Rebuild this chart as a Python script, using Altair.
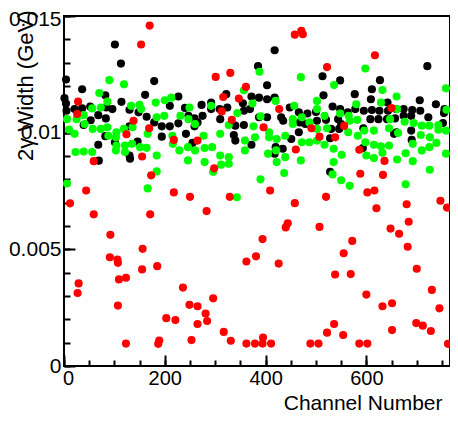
import altair as alt
import pandas as pd

# (channel, 2-gamma width in GeV)
black_points = [
    (101, 0.01378), (113, 0.01296), (4, 0.01228), (179, 0.01221), (36, 0.01186), (161, 0.01162),
    (82, 0.01160), (1, 0.01148), (4, 0.01125), (114, 0.01132), (227, 0.01155), (210, 0.01115),
    (84, 0.01108), (96, 0.01101), (21, 0.01101), (5, 0.01094), (36, 0.01104), (130, 0.01098),
    (148, 0.01087), (240, 0.01106), (68, 0.01075), (53, 0.01053), (83, 0.01061), (164, 0.01068),
    (259, 0.01061), (194, 0.01027), (210, 0.01027), (227, 0.01040), (39, 0.01033), (130, 0.01027),
    (179, 0.01044), (242, 0.00995), (82, 0.00985), (194, 0.00983), (101, 0.00959), (146, 0.00962),
    (68, 0.00948), (255, 0.00956), (130, 0.00902), (131, 0.00888), (69, 0.00880), (52, 0.01112),
    (418, 0.01353), (385, 0.01285), (403, 0.01203), (322, 0.01165), (273, 0.01119), (292, 0.01129),
    (247, 0.01072), (275, 0.01072), (292, 0.01101), (309, 0.01101), (324, 0.01108), (355, 0.01126),
    (372, 0.01155), (387, 0.01150), (403, 0.01143), (418, 0.01150), (357, 0.01094), (369, 0.01101),
    (387, 0.01066), (431, 0.01066), (435, 0.01051), (448, 0.01108), (466, 0.01087), (466, 0.01002),
    (479, 0.01037), (513, 0.01242), (265, 0.01044), (259, 0.01027), (310, 0.01058), (340, 0.01030),
    (357, 0.01033), (337, 0.00990), (340, 0.00966), (372, 0.00948), (420, 0.00938), (418, 0.00910),
    (434, 0.00931), (500, 0.01089), (403, 0.01066), (468, 0.01044), (520, 0.01055), (451, 0.00973),
    (483, 0.01082),
    (721, 0.01285), (548, 0.01224), (627, 0.01225), (611, 0.01186), (577, 0.01165), (515, 0.01160),
    (609, 0.01143), (642, 0.01129), (706, 0.01139), (738, 0.01122), (533, 0.01112), (548, 0.01101),
    (563, 0.01087), (578, 0.01101), (595, 0.01094), (611, 0.01097), (626, 0.01094), (643, 0.01094),
    (659, 0.01101), (674, 0.01101), (691, 0.01097), (707, 0.01094), (755, 0.01101), (754, 0.01084),
    (502, 0.01051), (544, 0.01058), (608, 0.01058), (624, 0.01058), (641, 0.01058), (657, 0.01061),
    (674, 0.01072), (689, 0.01072), (723, 0.01066), (752, 0.01041), (530, 0.01016), (546, 0.01016),
    (594, 0.01019), (660, 0.01002), (689, 0.01009), (690, 0.00969), (528, 0.00976), (593, 0.00934),
    (655, 0.00995), (528, 0.00832), (550, 0.01037),
]

green_points = [
    (90, 0.01225), (119, 0.01207), (70, 0.01170), (86, 0.01133), (182, 0.01129), (200, 0.01139),
    (213, 0.01150), (133, 0.01115), (150, 0.01119), (153, 0.01101), (56, 0.01104), (73, 0.01108),
    (6, 0.01058), (25, 0.01058), (39, 0.01075), (57, 0.01016), (41, 0.01037), (73, 0.01016),
    (86, 0.01023), (10, 0.01013), (21, 0.00995), (104, 0.01002), (119, 0.01016), (136, 0.01023),
    (166, 0.00995), (199, 0.01072), (184, 0.01066), (231, 0.01072), (247, 0.01058), (260, 0.01037),
    (103, 0.00980), (88, 0.00987), (104, 0.00945), (121, 0.00945), (103, 0.00924), (121, 0.00917),
    (135, 0.00952), (151, 0.00938), (164, 0.00935), (23, 0.00917), (39, 0.00919), (56, 0.00917),
    (184, 0.00902), (215, 0.00987), (216, 0.00952), (229, 0.00924), (246, 0.00881), (260, 0.00924),
    (184, 0.00834), (6, 0.00782), (166, 0.00761),
    (388, 0.01261), (470, 0.01238), (357, 0.01182), (249, 0.01108), (292, 0.01115), (277, 0.00987),
    (279, 0.00934), (294, 0.00938), (279, 0.00874), (296, 0.00832), (310, 0.00995), (310, 0.00902),
    (312, 0.00863), (327, 0.00895), (327, 0.00867), (327, 0.01033), (344, 0.01084), (359, 0.00966),
    (359, 0.00924), (374, 0.01125), (376, 0.01027), (379, 0.00980), (390, 0.01070), (390, 0.00800),
    (407, 0.01002), (407, 0.00980), (405, 0.00910), (420, 0.01136), (422, 0.00973), (421, 0.00924),
    (422, 0.00874), (439, 0.00987), (439, 0.00895), (437, 0.00827), (454, 0.01058), (454, 0.01037),
    (457, 0.01115), (472, 0.01066), (472, 0.00959), (470, 0.00881), (487, 0.01044), (487, 0.00959),
    (502, 0.01136), (502, 0.01101), (502, 0.00966), (517, 0.01072), (517, 0.00948), (246, 0.00938),
    (343, 0.00723),
    (598, 0.01275), (536, 0.01204), (632, 0.01183), (660, 0.01155), (629, 0.01129), (580, 0.01122),
    (758, 0.01190), (759, 0.01098), (548, 0.01082), (565, 0.01072), (567, 0.01051), (582, 0.01055),
    (661, 0.01101), (647, 0.01058), (676, 0.01047), (694, 0.01041), (710, 0.01030), (725, 0.01030),
    (743, 0.01033), (743, 0.01013), (758, 0.01009), (502, 0.01016), (522, 0.01019), (564, 0.01002),
    (596, 0.01009), (615, 0.01009), (645, 0.01019), (663, 0.00999), (708, 0.00990), (726, 0.00980),
    (739, 0.00956), (583, 0.00987), (598, 0.00959), (615, 0.00948), (629, 0.00942), (645, 0.00945),
    (692, 0.00952), (710, 0.00924), (725, 0.00938), (758, 0.00910), (535, 0.00931), (551, 0.00905),
    (600, 0.00902), (615, 0.00891), (632, 0.00914), (678, 0.00912), (692, 0.00878), (661, 0.00885),
    (535, 0.00874), (726, 0.00841), (533, 0.00821), (550, 0.00796), (567, 0.00772), (678, 0.00779),
]

red_channel = [
    170, 153, 28, 26, 138, 124, 169, 59, 155, 173,
    218, 44, 265, 12, 59, 218, 250, 171, 92, 156,
    91, 106, 107, 155, 185, 29, 27, 109, 123, 236,
    107, 249, 265, 203, 221, 265, 123, 189, 187, 253,
    329, 283, 409, 458, 520, 444, 440, 507, 394, 381,
    362, 426, 296, 281, 284, 317, 331, 362, 379, 395,
    394, 411, 489, 505, 522, 602, 616, 620, 680, 684,
    648, 665, 682, 747, 760, 572, 555, 538, 569, 700,
    600, 730, 632, 651, 745, 536, 554, 699, 712, 728,
    651, 586, 602, 762, 458, 471, 474, 301, 330, 361,
    316, 347, 427, 313, 333, 396, 491, 507, 460, 298,
    617, 522, 650, 556, 538, 586, 636, 588, 633,
]
red_width = [
    0.01459, 0.01378, 0.01133, 0.01080, 0.01051, 0.00993, 0.01019, 0.00878, 0.00898, 0.00817,
    0.00969, 0.00752, 0.00966, 0.00697, 0.00650, 0.00744, 0.00725, 0.00650, 0.00562, 0.00502,
    0.00466, 0.00456, 0.00442, 0.00414, 0.00428, 0.00354, 0.00313, 0.00371, 0.00378, 0.00336,
    0.00259, 0.00262, 0.00256, 0.00205, 0.00197, 0.00180, 0.00096, 0.00109, 0.00095, 0.00111,
    0.00725, 0.00664, 0.00752, 0.00698, 0.00725, 0.00612, 0.00594, 0.00596, 0.00544, 0.00470,
    0.00448, 0.00439, 0.00290, 0.00225, 0.00193, 0.00146, 0.00108, 0.00096, 0.00096, 0.00122,
    0.00096, 0.00096, 0.00096, 0.00096, 0.00143, 0.00744, 0.00752, 0.00676, 0.00693, 0.00618,
    0.00589, 0.00567, 0.00511, 0.00708, 0.00679, 0.00536, 0.00483, 0.00392, 0.00394, 0.00417,
    0.00306, 0.00326, 0.00256, 0.00269, 0.00247, 0.00180, 0.00133, 0.00184, 0.00173, 0.00150,
    0.00154, 0.00096, 0.00096, 0.00095, 0.01420, 0.01437, 0.01422, 0.01239, 0.01256, 0.01196,
    0.01153, 0.01146, 0.01101, 0.01091, 0.01055, 0.01023, 0.01019, 0.00983, 0.00928, 0.00847,
    0.01332, 0.01281, 0.01105, 0.01029, 0.00980, 0.00927, 0.00879, 0.00824, 0.00819,
]

x_major_ticks = [0, 200, 400, 600]
x_minor_ticks = [0, 50, 100, 150, 200, 250, 300, 350, 400, 450, 500, 550, 600, 650, 700, 750]
y_major_ticks = [0, 0.005, 0.01, 0.015]
y_minor_ticks = [0.000, 0.001, 0.002, 0.003, 0.004, 0.005, 0.006, 0.007, 0.008,
                 0.009, 0.010, 0.011, 0.012, 0.013, 0.014, 0.015]

FONT = "Liberation Sans"

black_df = pd.DataFrame(black_points, columns=["channel", "width"])
green_df = pd.DataFrame(green_points, columns=["channel", "width"])
red_df = pd.DataFrame({"channel": red_channel, "width": red_width})

xs = alt.Scale(domain=[0, 766], nice=False, zero=False)
ys = alt.Scale(domain=[0, 0.015], nice=False, zero=False)

x_main = alt.Axis(
    orient="bottom", values=x_major_ticks, labelFont=FONT, labelFontSize=20,
    labelColor="black", labelPadding=2, labelFlush=False, labelOverlap=False,
    labelOffset={"condition": {"test": "datum.value === 0", "value": 4}, "value": 0},
    ticks=False, tickSize=0, domain=False, grid=False,
    title="Channel Number", titleFont=FONT, titleFontSize=21, titleFontWeight="normal",
    titleColor="black", titleAlign="right", titleBaseline="alphabetic", titleX=378, titleY=43,
)
y_main = alt.Axis(
    orient="left", values=y_major_ticks, labelExpr="format(datum.value, '.3~f')",
    labelFont=FONT, labelFontSize=21,
    labelColor="black", labelPadding=3, labelFlush=False, labelOverlap=False,
    labelOffset={"condition": {"test": "datum.value > 0.0149", "value": 3}, "value": 0},
    ticks=False, tickSize=0, domain=False, grid=False,
    title="2γ Width (GeV)", titleFont=FONT, titleFontSize=22, titleFontWeight="normal",
    titleColor="black", titleAngle=270, titleAlign="right", titleBaseline="middle",
    titleX=-39, titleY=-6,
)
x_major = alt.Axis(orient="bottom", values=x_major_ticks, labels=False, ticks=True, tickSize=11,
                   tickWidth=2, tickColor="black", domain=False, grid=False, title=None, offset=-11)
y_major = alt.Axis(orient="left", values=y_major_ticks, labels=False, ticks=True, tickSize=11,
                   tickWidth=2, tickColor="black", domain=False, grid=False, title=None, offset=-11)
x_minor = alt.Axis(orient="bottom", values=x_minor_ticks, labels=False, ticks=True, tickSize=6,
                   tickWidth=2, tickColor="black", domain=False, grid=False, title=None, offset=-6)
y_minor = alt.Axis(orient="left", values=y_minor_ticks, labels=False, ticks=True, tickSize=6,
                   tickWidth=2, tickColor="black", domain=False, grid=False, title=None, offset=-6)


def layer(df, color, xa, ya):
    return alt.Chart(df).mark_circle(size=66, opacity=1, color=color).encode(
        x=alt.X("channel:Q", scale=xs, axis=xa),
        y=alt.Y("width:Q", scale=ys, axis=ya),
    )


chart = alt.layer(
    layer(black_df, "#000000", x_main, y_main),
    layer(green_df, "#00ff00", x_major, y_major),
    layer(red_df, "#ff0000", x_minor, y_minor),
).resolve_axis(x="independent", y="independent").properties(
    width=386, height=350,
    autosize=alt.AutoSizeParams(type="none"),
    padding={"left": 56, "top": 8, "right": 0, "bottom": 47},
    background="white",
).configure_view(stroke="black", strokeWidth=2)

chart.save("out.html", embed_options={"renderer": "svg", "actions": False})
